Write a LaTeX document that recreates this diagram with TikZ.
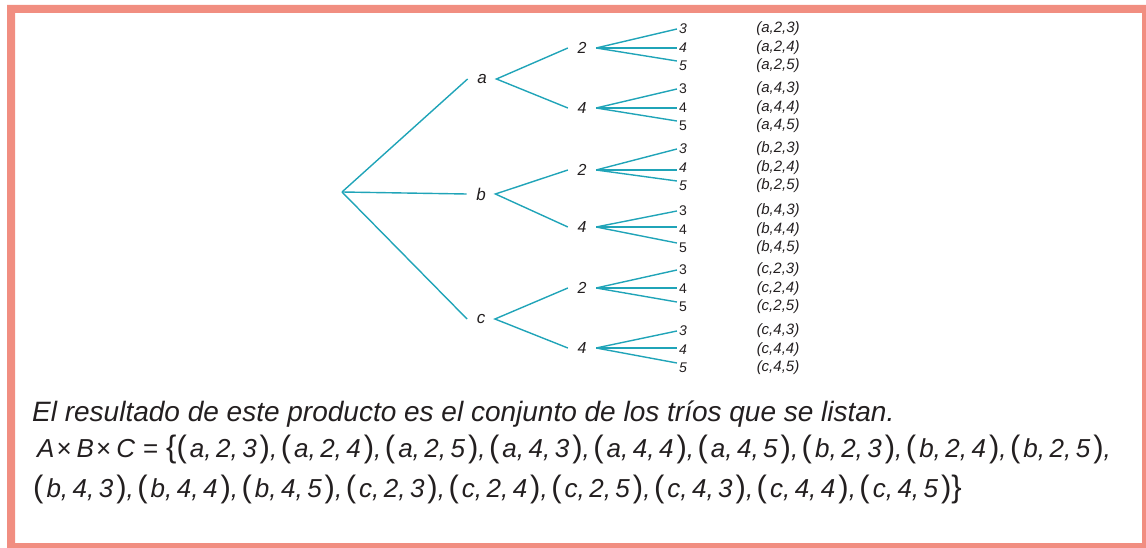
\documentclass[tikz,border=0pt]{standalone}
\usepackage{fontspec}
\setmainfont{Liberation Sans}
\definecolor{framecol}{RGB}{241,142,129}
\definecolor{branchcol}{RGB}{32,164,184}
\definecolor{inkcol}{RGB}{35,31,32}
\newcommand{\fs}[1]{\fontsize{#1}{#1}\selectfont}
\newcommand{\bpar}[1]{{\upshape\fs{31}#1}}
\newcommand{\tri}[3]{\bpar(\hspace{3pt}#1,\hspace{4.5pt}#2,\hspace{4.5pt}#3\hspace{3pt}\bpar)}
\newcommand{\sep}{,\hspace{3.5pt}}

\begin{document}
\begin{tikzpicture}[x=1pt,y=-1pt,
    branch/.style={draw=branchcol, line width=1.4pt},
    first/.style={font=\itshape\fs{17}, inner xsep=9.5pt, inner ysep=0pt, text=inkcol},
    second/.style={font=\itshape\fs{16}, inner xsep=9.5pt, inner ysep=0pt, text=inkcol},
    leaf/.style={inner xsep=2pt, inner ysep=0pt, text=inkcol},
    tuple/.style={font=\itshape\fs{15}, inner sep=0pt, text=inkcol},
    caption/.style={anchor=base west, inner sep=0pt, text=inkcol}]
    \useasboundingbox (0,0) rectangle (1146,548);

    % salmon frame
    \fill[framecol, even odd rule] (7,5) rectangle (1146,548) (15,13) rectangle (1142,543);

    % root and first letter
    \coordinate (root) at (342,192);
    \node[first] (a) at (482,79) {a};
    \node[first] (b) at (481,194) {b};
    \node[first] (c) at (481,319) {c};

    \draw[branch] (root) -- (a.west);
    \draw[branch] (root) -- (b.west);
    \draw[branch] (root) -- (c.west);

    % second element: 2 or 4
    \node[second] (a2) at (582,48) {2};
    \node[second] (a4) at (582,108) {4};
    \node[second] (b2) at (582,170) {2};
    \node[second] (b4) at (582,227) {4};
    \node[second] (c2) at (582,288) {2};
    \node[second] (c4) at (582,348) {4};

    \draw[branch] (a2.west) -- (a.east) -- (a4.west);
    \draw[branch] (b2.west) -- (b.east) -- (b4.west);
    \draw[branch] (c2.west) -- (c.east) -- (c4.west);

    % third element and the trios
    \foreach \l/\d/\top/\sh in {a/2/29/\itshape, a/4/89/\upshape, b/2/149/\itshape,
                               b/4/211/\upshape, c/2/270/\upshape, c/4/331/\itshape} {
        \foreach \k [count=\i from 0] in {3,4,5} {
            \node[leaf, font={\fs{14}\sh}] (\l\d-\k) at (683,\top+18.5*\i) {\k};
            \node[tuple] (t\l\d-\k) at (778,\top+18.5*\i) {(\l,\d,\k)};
        }
        \draw[branch] (\l\d.east) -- (\l\d-3.west);
        \draw[branch] (\l\d.east) -- (\l\d.east -| \l\d-4.west);
        \draw[branch] (\l\d.east) -- ([yshift=5pt]\l\d-5.west);
    }

    % result
    \node[caption, font=\itshape\fs{28}] (txt) at (32,421)
        {El resultado de este producto es el conjunto de los tríos que se listan.};
    \node[caption, font=\itshape\fs{26}] (prod) at (37,457)
        {A\hspace{2pt}{\upshape×}\hspace{5pt}B\hspace{2pt}{\upshape×}\hspace{5pt}C\hspace{8pt}{\upshape=}\hspace{8pt}\bpar\{\tri{a}{2}{3}\sep\tri{a}{2}{4}\sep\tri{a}{2}{5}\sep\tri{a}{4}{3}\sep\tri{a}{4}{4}\sep\tri{a}{4}{5}\sep\tri{b}{2}{3}\sep\tri{b}{2}{4}\sep\tri{b}{2}{5},};
    \node[caption, font=\itshape\fs{26}] (rest) at (33,497)
        {\tri{b}{4}{3}\sep\tri{b}{4}{4}\sep\tri{b}{4}{5}\sep\tri{c}{2}{3}\sep\tri{c}{2}{4}\sep\tri{c}{2}{5}\sep\tri{c}{4}{3}\sep\tri{c}{4}{4}\sep\tri{c}{4}{5}\bpar\}};
\end{tikzpicture}
\end{document}
